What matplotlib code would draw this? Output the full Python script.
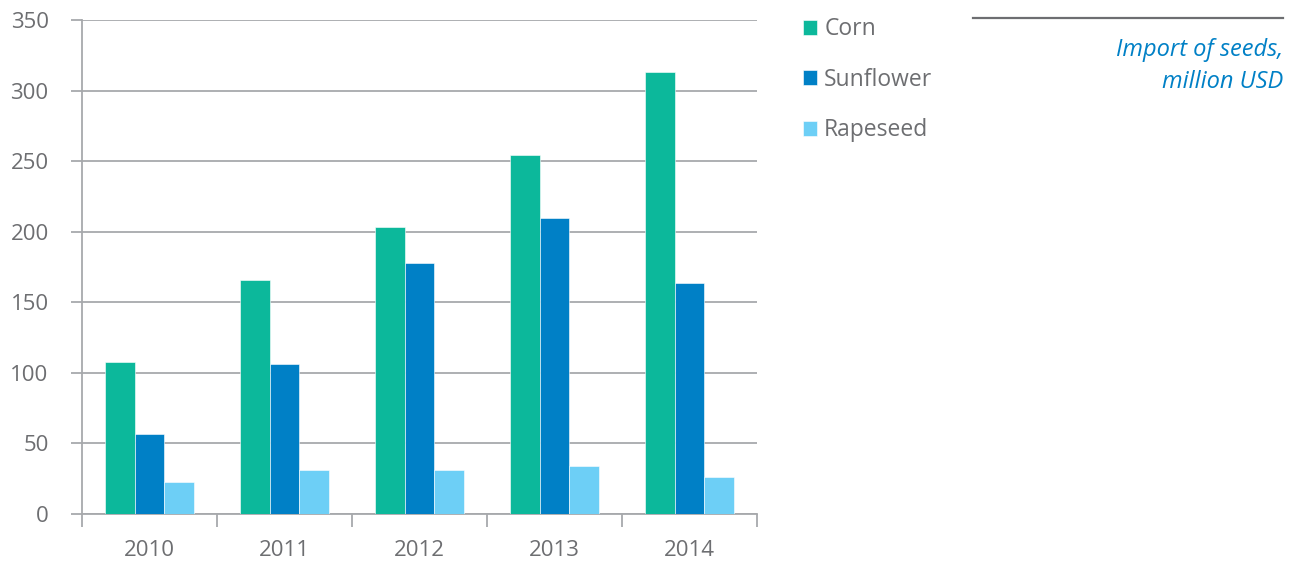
import matplotlib.pyplot as plt
import numpy as np

years = ["2010", "2011", "2012", "2013", "2014"]
corn = [108, 166, 203, 254, 313]
sunflower = [57, 106, 178, 210, 164]
rapeseed = [23, 31, 31, 34, 26]
series_names = ["Corn", "Sunflower", "Rapeseed"]
yticks = [0, 50, 100, 150, 200, 250, 300, 350]

c_corn = "#0cb89b"
c_sun = "#0080c6"
c_rape = "#6dcff6"
grid_c = "#a7a9ac"
text_c = "#6d6e71"

plt.rcParams["font.family"] = ["Open Sans", "DejaVu Sans"]

W, H = 1297, 563
fig = plt.figure(figsize=(W / 100, H / 100), dpi=100, facecolor="white")
ax = fig.add_axes([82 / W, 1 - 514 / H, (757 - 82) / W, (514 - 20) / H])

x = np.arange(len(years))
bw = 0.222
for off, vals, col, name in zip([-1, 0, 1], [corn, sunflower, rapeseed],
                                [c_corn, c_sun, c_rape], series_names):
    ax.bar(x + off * bw, vals, width=bw, color=col, label=name,
           edgecolor="white", linewidth=0.4, zorder=3)

ax.set_xlim(-0.5, len(years) - 0.5)
ax.set_ylim(0, 350)
ax.set_yticks(yticks)
ax.set_yticklabels([str(t) for t in yticks], color=text_c, fontsize=16)
ax.yaxis.grid(True, color=grid_c, linewidth=1.3, zorder=0)
ax.tick_params(axis="y", length=8, width=1.3, color=grid_c, pad=16)

# year labels at centres, tick marks at boundaries
ax.set_xticks(x)
ax.set_xticklabels(years, color=text_c, fontsize=16)
ax.tick_params(axis="x", which="major", length=0, pad=19)
ax.set_xticks(np.arange(-0.5, len(years), 1), minor=True)
ax.tick_params(axis="x", which="minor", length=9, width=1.3, color=grid_c)

for s in ["top", "right"]:
    ax.spines[s].set_visible(False)
for s in ["left", "bottom"]:
    ax.spines[s].set_color(grid_c)
    ax.spines[s].set_linewidth(1.3)

leg = fig.legend(loc="upper left", bbox_to_anchor=(794 / W, 1 - 8 / H),
                 frameon=False, fontsize=16.5, labelcolor=text_c,
                 handlelength=0.62, handleheight=0.62, handletextpad=0.3,
                 labelspacing=1.16, borderaxespad=0)

fig.add_artist(plt.Line2D([973 / W, 1283 / W], [1 - 18 / H, 1 - 18 / H],
                          color=text_c, linewidth=1.6))
fig.text(1283 / W, 1 - 66 / H, "Import of seeds,\nmillion USD", ha="right",
         va="center", color=c_sun, style="italic", fontsize=17,
         linespacing=1.45)

fig.savefig("out.png", dpi=100, facecolor="white")
